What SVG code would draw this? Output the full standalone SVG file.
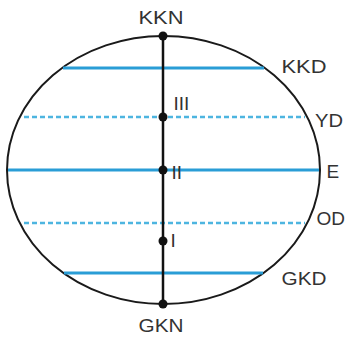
<svg xmlns="http://www.w3.org/2000/svg" width="350" height="338" viewBox="0 0 350 338">
<style>
.lbl{font-family:"Liberation Sans",Arial,sans-serif;font-size:19px;fill:#333}
.solid{stroke:#2a9dd6;stroke-width:3;fill:none}
.dash{stroke:#4db5e0;stroke-width:2.5;stroke-dasharray:5 3;fill:none}
.dot{fill:#111}
</style>
<rect width="350" height="338" fill="#fff"/>
<g id="globe">
<ellipse cx="163.5" cy="170" rx="156.5" ry="134" fill="none" stroke="#1a1a1a" stroke-width="2"/>
</g>
<g id="connectors">
<line id="kkd-line" class="solid" x1="63" y1="68" x2="264" y2="68"/>
<line id="yd-line" class="dash" x1="24" y1="117" x2="305" y2="117"/>
<line id="e-line" class="solid" x1="8" y1="170" x2="319" y2="170"/>
<line id="od-line" class="dash" x1="24" y1="223" x2="305" y2="223"/>
<line id="gkd-line" class="solid" x1="64" y1="273" x2="263" y2="273"/>
<line id="axis" x1="163" y1="36" x2="163" y2="304" stroke="#111" stroke-width="2.5"/>
</g>
<g id="KKN"><circle class="dot" cx="163" cy="36" r="4.5"/><text class="lbl" x="138.5" y="24" textLength="45" lengthAdjust="spacingAndGlyphs">KKN</text></g>
<g id="KKD"><text class="lbl" x="281.5" y="73" textLength="45" lengthAdjust="spacingAndGlyphs">KKD</text></g>
<g id="YD"><text class="lbl" x="315" y="126.5" textLength="28" lengthAdjust="spacingAndGlyphs">YD</text></g>
<g id="E"><text class="lbl" x="326.5" y="178">E</text></g>
<g id="OD"><text class="lbl" x="316.5" y="225" textLength="28.5" lengthAdjust="spacingAndGlyphs">OD</text></g>
<g id="GKD"><text class="lbl" x="281.5" y="285" textLength="45" lengthAdjust="spacingAndGlyphs">GKD</text></g>
<g id="GKN"><circle class="dot" cx="163" cy="304" r="4.5"/><text class="lbl" x="138.5" y="331.5" textLength="45" lengthAdjust="spacingAndGlyphs">GKN</text></g>
<g id="III"><circle class="dot" cx="163" cy="117" r="4.5"/><text class="lbl" x="173.5" y="110">III</text></g>
<g id="II"><circle class="dot" cx="163" cy="170" r="4.5"/><text class="lbl" x="171.5" y="178.5">II</text></g>
<g id="I"><circle class="dot" cx="163" cy="241" r="4.5"/><text class="lbl" x="170.5" y="247">I</text></g>
</svg>
